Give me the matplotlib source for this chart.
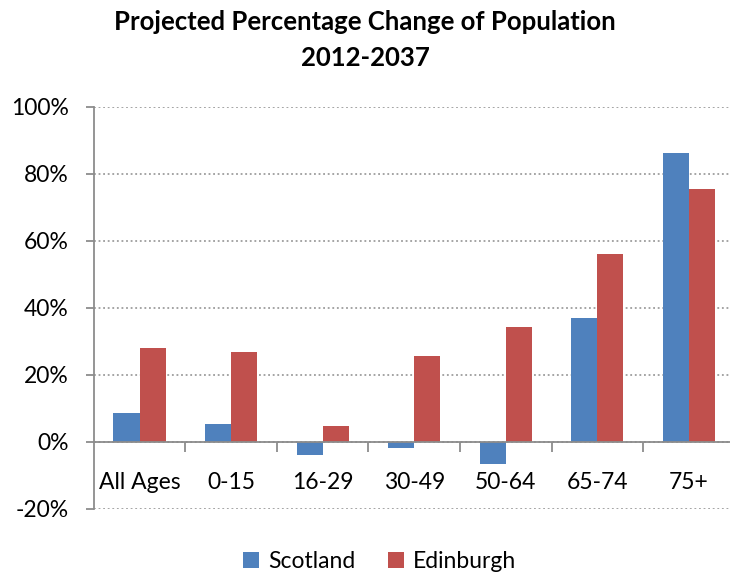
import numpy as np
import matplotlib.pyplot as plt
from matplotlib.ticker import FixedLocator, FuncFormatter

plt.rcParams['font.family'] = ['Lato', 'DejaVu Sans']

# projected % change in population, 2012-2037
age_groups = ['All Ages', '0-15', '16-29', '30-49', '50-64', '65-74', '75+']
scotland = [8.7, 5.4, -3.8, -1.8, -6.5, 36.9, 86.1]
edinburgh = [28.1, 26.9, 4.8, 25.7, 34.3, 56.1, 75.5]

fig = plt.figure(figsize=(7.3, 5.77), dpi=100)
ax = fig.add_axes([0.1285, 0.118, 0.878, 0.697])

x = np.arange(len(age_groups))
w = 0.285
ax.bar(x - w / 2, scotland, w, color='#4F81BD', label='Scotland', zorder=3)
ax.bar(x + w / 2, edinburgh, w, color='#C0504D', label='Edinburgh', zorder=3)

ax.set_xlim(-0.5, len(age_groups) - 0.5)
ax.set_ylim(-20, 100)
ax.set_yticks(np.arange(-20, 101, 20))
ax.yaxis.set_major_formatter(FuncFormatter(lambda v, p: f'{v:.0f}%'))
ax.yaxis.grid(True, linestyle=(0, (1.2, 1.8)), color='#8c8c8c', linewidth=1.1, zorder=0)

# category labels sit just under the zero line, ticks mark category edges
ax.spines['bottom'].set_position(('data', 0))
ax.spines['bottom'].set_color('#8c8c8c')
ax.spines['bottom'].set_linewidth(1.3)
ax.spines['bottom'].set_zorder(4)
ax.spines['left'].set_color('#8c8c8c')
ax.spines['left'].set_linewidth(1.3)
ax.spines['top'].set_visible(False)
ax.spines['right'].set_visible(False)

ax.set_xticks(x)
ax.set_xticklabels(age_groups)
ax.xaxis.set_minor_locator(FixedLocator(x[:-1] + 0.5))
ax.tick_params(axis='x', which='major', length=0, pad=22, labelsize=16.5)
ax.tick_params(axis='x', which='minor', length=7, width=1.3, color='#8c8c8c', direction='out')
ax.tick_params(axis='y', length=6, width=1.3, color='#8c8c8c', pad=12, labelsize=16.5)

fig.text(0.5, 0.962, 'Projected Percentage Change of Population',
         ha='center', va='center', fontsize=18.5, fontweight='bold')
fig.text(0.5, 0.899, '2012-2037', ha='center', va='center', fontsize=18.5, fontweight='bold')

fig.legend(*ax.get_legend_handles_labels(), loc='center', bbox_to_anchor=(0.52, 0.026),
           ncol=2, frameon=False, fontsize=16.5, handlelength=0.7, handleheight=0.7,
           columnspacing=1.4, handletextpad=0.4, borderpad=0)

fig.savefig('out.png', dpi=100)
